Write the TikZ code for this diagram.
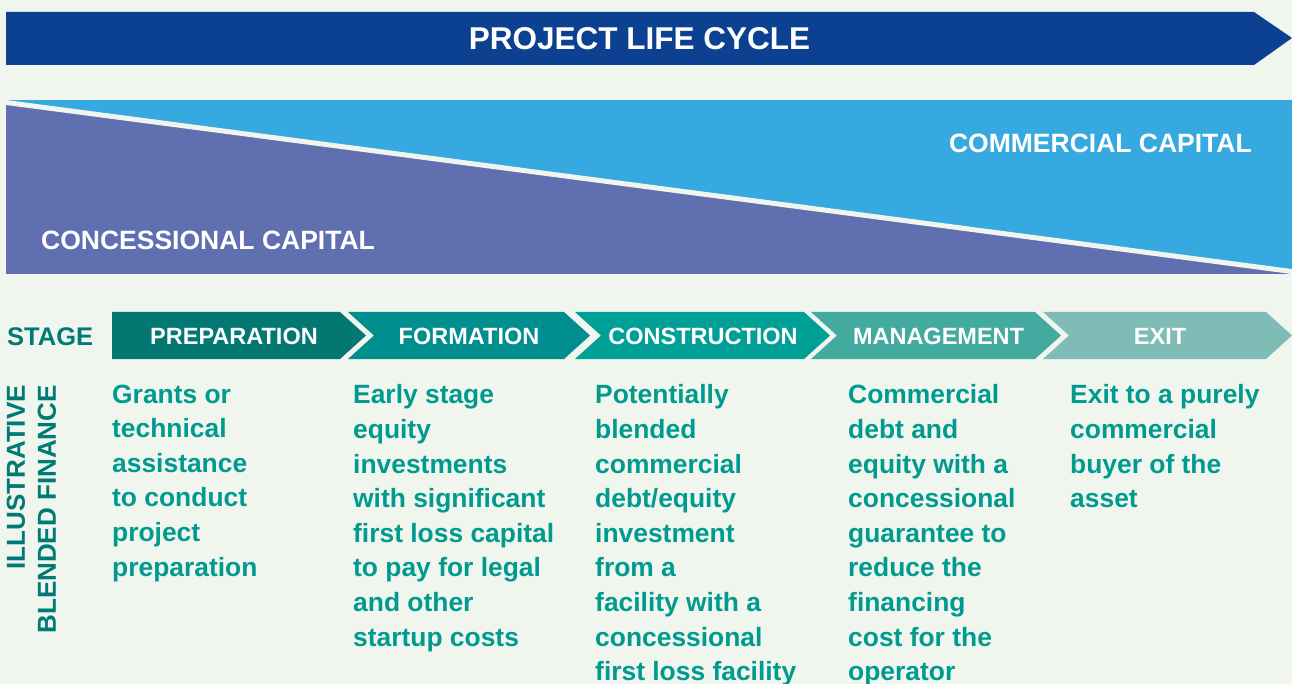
\documentclass[tikz,border=0pt]{standalone}
\usepackage{fontspec}
\setmainfont{Liberation Sans}
\definecolor{bgc}{HTML}{F0F6EE}
\definecolor{topbar}{HTML}{0C4191}
\definecolor{commc}{HTML}{36A9E0}
\definecolor{concc}{HTML}{606FAF}
\definecolor{dteal}{HTML}{007A74}
\definecolor{bodyc}{HTML}{009A8F}
\definecolor{cprep}{HTML}{037873}
\definecolor{cform}{HTML}{008E8F}
\definecolor{ccons}{HTML}{00A096}
\definecolor{cmana}{HTML}{43AAA0}
\definecolor{cexit}{HTML}{7EBCB5}
\begin{document}
\begin{tikzpicture}[x=1pt,y=-1pt,
  lbl/.style={text=white,font=\bfseries\fontsize{23.5}{28}\selectfont,inner sep=0pt},
  captxt/.style={text=white,font=\bfseries\fontsize{26.5}{30}\selectfont,inner sep=0pt},
  bodytxt/.style={text=bodyc,font=\bfseries\fontsize{26.4}{34.6}\selectfont,inner sep=0pt,anchor=north west,align=left},
  side/.style={text=dteal,font=\bfseries\fontsize{26}{30}\selectfont,inner sep=0pt,rotate=90,anchor=east}]
\fill[bgc] (0,0) rectangle (1292,684);
\useasboundingbox (0,0) rectangle (1292,684);
% top arrow
\fill[topbar] (6,12) -- (1254,12) -- (1292,38) -- (1254,65) -- (6,65) -- cycle;
\node[captxt,font=\bfseries\fontsize{31.5}{36}\selectfont] (title) at (639.5,38.5) {PROJECT LIFE CYCLE};
% capital band
\fill[commc] (6,100) rectangle (1292,274);
\fill[concc] (6,100) -- (1292,274) -- (6,274) -- cycle;
\draw[bgc,line width=5pt] (4,102.2) -- (1294,271.8);
\node[captxt,anchor=east] (comm) at (1252,143.5) {COMMERCIAL CAPITAL};
\node[captxt,anchor=west] (conc) at (41,240) {CONCESSIONAL CAPITAL};
% stage label
\node[text=dteal,font=\bfseries\fontsize{25.5}{30}\selectfont,inner sep=0pt,anchor=west] (stage) at (7,337) {STAGE};
% chevrons
\fill[cprep] (112,312) -- (340,312) -- (366,335.5) -- (340,359) -- (112,359) -- cycle;
\fill[cform] (348,312) -- (564,312) -- (590,335.5) -- (564,359) -- (348,359) -- (374,335.5) -- cycle;
\fill[ccons] (575,312) -- (804,312) -- (830,335.5) -- (804,359) -- (575,359) -- (601,335.5) -- cycle;
\fill[cmana] (811,312) -- (1035,312) -- (1061,335.5) -- (1035,359) -- (811,359) -- (837,335.5) -- cycle;
\fill[cexit] (1043,312) -- (1266,312) -- (1292,335.5) -- (1266,359) -- (1043,359) -- (1069,335.5) -- cycle;
\node[lbl] (prep) at (234,336) {PREPARATION};
\node[lbl] (form) at (469,336) {FORMATION};
\node[lbl] (cons) at (703,336) {CONSTRUCTION};
\node[lbl] (mana) at (938.5,336) {MANAGEMENT};
\node[lbl] (exit) at (1160,336) {EXIT};
% side label
\node[side] (ill) at (16,385) {ILLUSTRATIVE};
\node[side] (blend) at (47,385) {BLENDED FINANCE};
% body texts
\node[bodytxt] (t1) at (112,384.5) {Grants or\\technical\\assistance\\to conduct\\project\\preparation};
\node[bodytxt] (t2) at (353,384.5) {Early stage\\equity\\investments\\with significant\\first loss capital\\to pay for legal\\and other\\startup costs};
\node[bodytxt] (t3) at (595,384.5) {Potentially\\blended\\commercial\\debt/equity\\investment\\from a\\facility with a\\concessional\\first loss facility};
\node[bodytxt] (t4) at (848,384.5) {Commercial\\debt and\\equity with a\\concessional\\guarantee to\\reduce the\\financing\\cost for the\\operator};
\node[bodytxt] (t5) at (1070,384.5) {Exit to a purely\\commercial\\buyer of the\\asset};
\end{tikzpicture}
\end{document}
